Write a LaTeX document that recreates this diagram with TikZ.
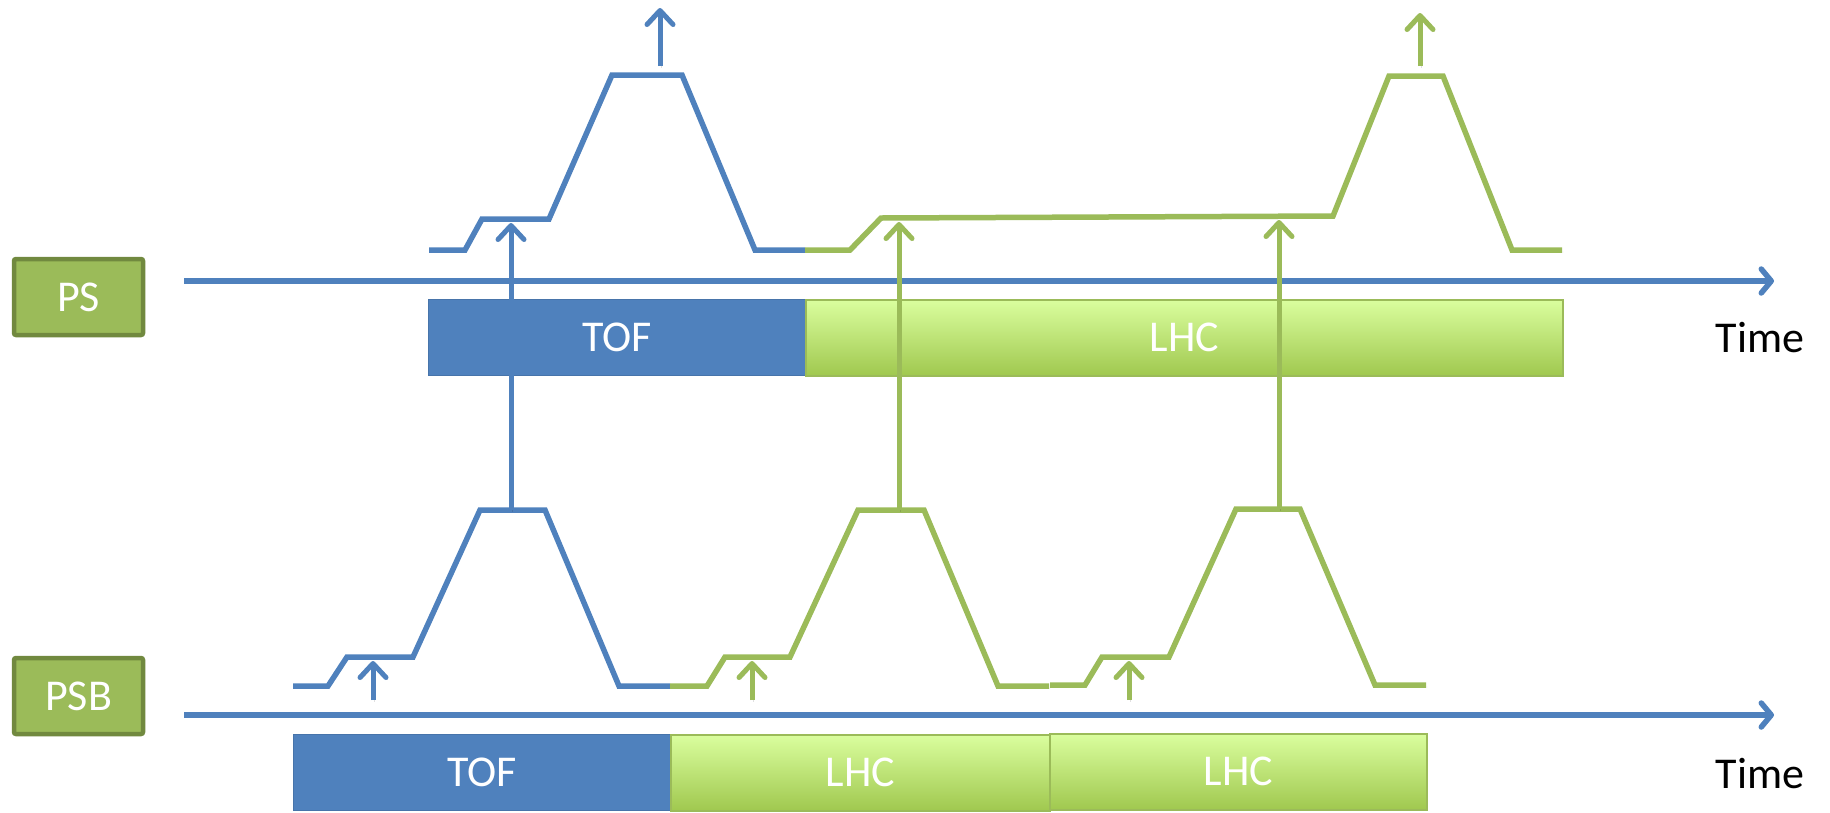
\documentclass[tikz,border=0pt]{standalone}
\usepackage{fontspec}
\setmainfont{Carlito}
\usetikzlibrary{arrows.meta}
\definecolor{ablue}{HTML}{4F81BD}
\definecolor{agreen}{HTML}{9BBB59}
\definecolor{adkgreen}{HTML}{71893F}
\definecolor{lhctop}{HTML}{DAFE9E}
\definecolor{lhcbot}{HTML}{A0C84F}
\begin{document}
\begin{tikzpicture}[x=1pt,y=-1pt,
  bigtxt/.style={font=\fontsize{44}{53}\selectfont},
  softshadow/.style={preaction={draw=black,opacity=0.12,
    transform canvas={shift={(1.5pt,-2pt)}}}},
  machine/.style={bigtxt,text=white,fill=agreen,draw=adkgreen,line width=4.5pt,
    rounded corners=2pt,minimum width=129pt,minimum height=76pt,inner sep=0pt},
  tofbox/.style={bigtxt,text=white,fill=ablue,draw=ablue!90!black,line width=0.8pt,
    minimum height=76pt,inner sep=0pt,anchor=north west},
  lhcbox/.style={bigtxt,text=white,top color=lhctop,bottom color=lhcbot,draw=agreen,
    line width=1.5pt,minimum height=76pt,inner sep=0pt,anchor=north west},
  timelbl/.style={bigtxt,text=black},
  axis/.style={softshadow,ablue,line width=5.5pt,
    -{Straight Barb[length=10pt,width=24pt,round]}},
  cycle/.style={softshadow,line width=5.5pt,line join=miter},
  trig/.style={softshadow,line width=5pt,
    -{Straight Barb[length=14pt,width=26pt,round]}},
]
\useasboundingbox (0,0) rectangle (1830,812);

% machine labels
\node[machine] (ps) at (78.5,297) {PS};
\node[machine] (psb) at (78.5,696) {PSB};

% time axes
\coordinate (psaxA) at (184,281);
\coordinate (psaxB) at (1774,281);
\coordinate (psbaxA) at (184,715);
\coordinate (psbaxB) at (1774,715);
\draw[axis] (psaxA) -- (psaxB);
\draw[axis] (psbaxA) -- (psbaxB);
\node[timelbl] (tps) at (1760,338) {Time};
\node[timelbl] (tpsb) at (1760,773) {Time};

% PS user bars
\node[tofbox,minimum width=377pt] (pstof) at (428,299) {TOF};
\node[lhcbox,minimum width=757pt] (pslhc) at (805,299) {LHC};

% PSB user bars
\node[tofbox,minimum width=377pt] (psbtof) at (293,734) {TOF};
\node[lhcbox,minimum width=379pt] (psblhcA) at (670,734) {LHC};
\node[lhcbox,minimum width=377pt] (psblhcB) at (1049,733) {LHC};

% PS magnetic cycles
\draw[cycle,ablue] (429,250) -- (465,250) -- (482,219) -- (549,219) -- (612,75)
  -- (682,75) -- (755,250) -- (805,250);
\draw[cycle,agreen] (805,250) -- (850,250) -- (881,218) -- (1333,216) -- (1389,76)
  -- (1443,76) -- (1512,250) -- (1562,250);

% PSB magnetic cycles
\draw[cycle,ablue] (293,686) -- (328,686) -- (347,657) -- (413,657) -- (480,510)
  -- (545,510) -- (619,686) -- (670,686);
\draw[cycle,agreen] (670,686) -- (707,686) -- (725,657) -- (790,657) -- (858,510)
  -- (924,510) -- (998,686) -- (1049,686);
\draw[cycle,agreen] (1050,685) -- (1085,685) -- (1102,657) -- (1169,657) -- (1236,509)
  -- (1300,509) -- (1375,685) -- (1426,685);

% injection into the PSB
\coordinate (injA0) at (373,700); \coordinate (injA1) at (373,661);
\coordinate (injB0) at (752,700); \coordinate (injB1) at (752,661);
\coordinate (injC0) at (1129,700); \coordinate (injC1) at (1129,661);
\draw[trig,ablue] (injA0) -- (injA1);
\draw[trig,agreen] (injB0) -- (injB1);
\draw[trig,agreen] (injC0) -- (injC1);

% PSB to PS transfers
\coordinate (xferA0) at (511,510); \coordinate (xferA1) at (511,223);
\coordinate (xferB0) at (899,510); \coordinate (xferB1) at (899,222);
\coordinate (xferC0) at (1279,509); \coordinate (xferC1) at (1279,220);
\draw[trig,ablue] (xferA0) -- (xferA1);
\draw[trig,agreen] (xferB0) -- (xferB1);
\draw[trig,agreen] (xferC0) -- (xferC1);

% PS extraction
\coordinate (extA0) at (660,66); \coordinate (extA1) at (660,8);
\coordinate (extB0) at (1420,66); \coordinate (extB1) at (1420,13);
\draw[trig,ablue] (extA0) -- (extA1);
\draw[trig,agreen] (extB0) -- (extB1);
\end{tikzpicture}
\end{document}
